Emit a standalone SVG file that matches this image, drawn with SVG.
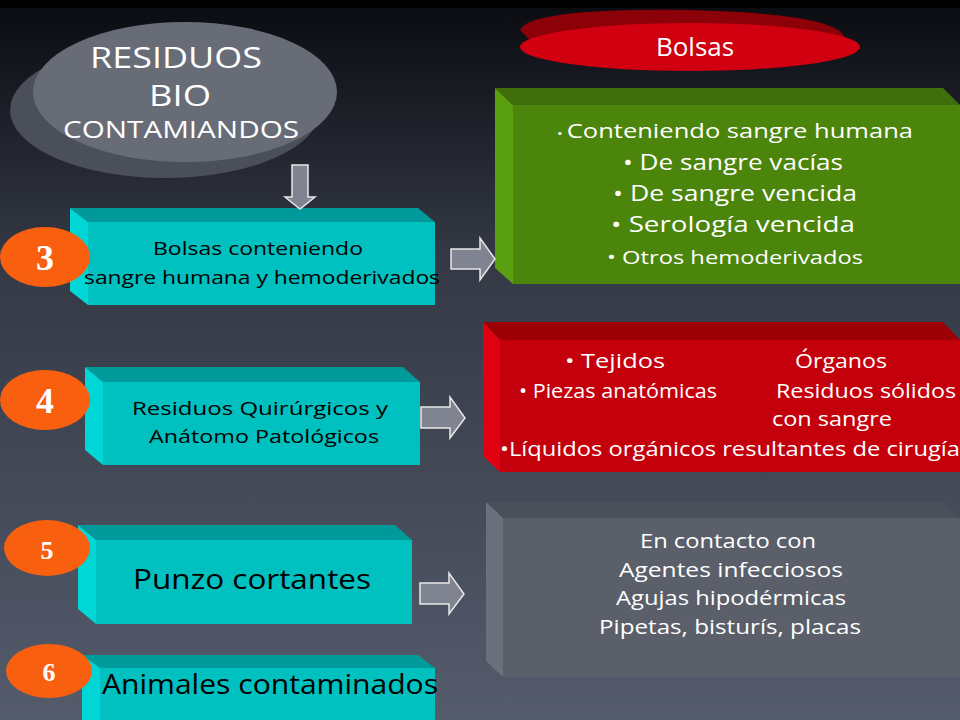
<svg xmlns="http://www.w3.org/2000/svg" width="960" height="720" viewBox="0 0 960 720">
<defs>
<linearGradient id="bg" x1="0" y1="0" x2="0" y2="1">
<stop offset="0" stop-color="#0a0b10"/><stop offset="0.35" stop-color="#333844"/><stop offset="1" stop-color="#545b6b"/>
</linearGradient>
<style>
text{font-family:"Open Sans","Liberation Sans",sans-serif;text-anchor:middle}
.w{fill:#fff}.k{fill:#000}
.arr{fill:#7f8490;stroke:#e8e8e8;stroke-width:1.5}
.num{font-family:"Liberation Serif",serif;font-weight:bold;fill:#fff}
</style>
</defs>
<rect width="960" height="720" fill="url(#bg)"/>
<rect width="960" height="8" fill="#000"/>

<g id="title">
<ellipse cx="165" cy="110" rx="155" ry="68" fill="#4a4f5a"/>
<ellipse cx="185" cy="92" rx="152" ry="70" fill="#676c77"/>
<text class="w" x="176" y="68" font-size="29" textLength="172" lengthAdjust="spacingAndGlyphs">RESIDUOS</text>
<text class="w" x="180" y="106" font-size="29" textLength="62" lengthAdjust="spacingAndGlyphs">BIO</text>
<text class="w" x="181" y="138" font-size="24" textLength="236" lengthAdjust="spacingAndGlyphs">CONTAMIANDOS</text>
</g>

<g id="bolsas-title">
<path d="M520,30 Q530,8 690,10 Q845,14 845,40 L830,50 L540,50 Z" fill="#8c0008"/>
<ellipse cx="690" cy="47" rx="170" ry="24" fill="#d00010"/>
<text class="w" x="695" y="56" font-size="26">Bolsas</text>
</g>

<g id="n3">
<polygon points="70,208 418,208 435,222 88,222" fill="#009a9a"/>
<polygon points="70,208 88,222 88,305 70,291" fill="#00d6d6"/>
<rect x="88" y="222" width="347" height="83" fill="#00c0c0"/>
<text class="k" x="258" y="255" font-size="19" textLength="210" lengthAdjust="spacingAndGlyphs">Bolsas conteniendo</text>
<text class="k" x="262" y="284" font-size="19" textLength="356" lengthAdjust="spacingAndGlyphs">sangre humana y hemoderivados</text>
<ellipse cx="45" cy="257" rx="45" ry="30" fill="#f86010"/>
<text class="num" x="45" y="270" font-size="36">3</text>
</g>

<g id="n4">
<polygon points="85,367 403,367 420,382 103,382" fill="#009a9a"/>
<polygon points="85,367 103,382 103,465 85,450" fill="#00d6d6"/>
<rect x="103" y="382" width="317" height="83" fill="#00c0c0"/>
<text class="k" x="260" y="415" font-size="19" textLength="256" lengthAdjust="spacingAndGlyphs">Residuos Quirúrgicos y</text>
<text class="k" x="264" y="443" font-size="19" textLength="230" lengthAdjust="spacingAndGlyphs">Anátomo Patológicos</text>
<ellipse cx="45" cy="400" rx="45" ry="30" fill="#f86010"/>
<text class="num" x="45" y="413" font-size="36">4</text>
</g>

<g id="n5">
<polygon points="78,525 395,525 412,540 96,540" fill="#009a9a"/>
<polygon points="78,525 96,540 96,624 78,609" fill="#00d6d6"/>
<rect x="96" y="540" width="316" height="84" fill="#00c0c0"/>
<text class="k" x="252" y="589" font-size="27" textLength="238" lengthAdjust="spacingAndGlyphs">Punzo cortantes</text>
<ellipse cx="47" cy="548" rx="43" ry="28" fill="#f86010"/>
<text class="num" x="47" y="559" font-size="26">5</text>
</g>

<g id="n6">
<polygon points="82,655 418,655 435,668 100,668" fill="#009a9a"/>
<polygon points="82,655 100,668 100,720 82,720" fill="#00d6d6"/>
<rect x="100" y="668" width="335" height="52" fill="#00c0c0"/>
<text class="k" x="270" y="694" font-size="27" textLength="336" lengthAdjust="spacingAndGlyphs">Animales contaminados</text>
<ellipse cx="49" cy="671" rx="43" ry="27" fill="#f86010"/>
<text class="num" x="49" y="681" font-size="26">6</text>
</g>

<g id="green">
<polygon points="495,88 943,88 960,105 513,105" fill="#3f6e0a"/>
<polygon points="495,88 513,105 513,284 495,268" fill="#5aa010"/>
<rect x="513" y="105" width="447" height="179" fill="#4b850c"/>
<text class="w" x="735" y="138" font-size="20" textLength="356" lengthAdjust="spacingAndGlyphs"><tspan font-size="12">• </tspan>Conteniendo sangre humana</text>
<text class="w" x="733" y="170" font-size="22" textLength="220" lengthAdjust="spacingAndGlyphs">• De sangre vacías</text>
<text class="w" x="735" y="201" font-size="22" textLength="244" lengthAdjust="spacingAndGlyphs">• De sangre vencida</text>
<text class="w" x="733" y="232" font-size="22" textLength="244" lengthAdjust="spacingAndGlyphs">• Serología vencida</text>
<text class="w" x="735" y="264" font-size="19" textLength="256" lengthAdjust="spacingAndGlyphs">• Otros hemoderivados</text>
</g>

<g id="red">
<polygon points="483,322 943,322 960,340 500,340" fill="#9c0006"/>
<polygon points="483,322 500,340 500,472 483,456" fill="#e00010"/>
<rect x="500" y="340" width="460" height="132" fill="#c4000c"/>
<text class="w" x="615" y="368" font-size="20" textLength="100" lengthAdjust="spacingAndGlyphs">• Tejidos</text>
<text class="w" x="841" y="368" font-size="20" textLength="92" lengthAdjust="spacingAndGlyphs">Órganos</text>
<text class="w" x="618" y="398" font-size="20" textLength="198" lengthAdjust="spacingAndGlyphs">• Piezas anatómicas</text>
<text class="w" x="866" y="398" font-size="20" textLength="180" lengthAdjust="spacingAndGlyphs">Residuos sólidos</text>
<text class="w" x="832" y="426" font-size="20" textLength="120" lengthAdjust="spacingAndGlyphs">con sangre</text>
<text class="w" x="730" y="456" font-size="20" textLength="460" lengthAdjust="spacingAndGlyphs">•Líquidos orgánicos resultantes de cirugía</text>
</g>

<g id="gray">
<polygon points="486,502 943,502 960,518 503,518" fill="#4a4f5a"/>
<polygon points="486,502 503,518 503,677 486,661" fill="#6a707c"/>
<rect x="503" y="518" width="457" height="159" fill="#5a5f6a"/>
<text class="w" x="728" y="548" font-size="20" textLength="176" lengthAdjust="spacingAndGlyphs">En contacto con</text>
<text class="w" x="731" y="577" font-size="20" textLength="224" lengthAdjust="spacingAndGlyphs">Agentes infecciosos</text>
<text class="w" x="731" y="605" font-size="20" textLength="230" lengthAdjust="spacingAndGlyphs">Agujas hipodérmicas</text>
<text class="w" x="730" y="634" font-size="20" textLength="262" lengthAdjust="spacingAndGlyphs">Pipetas, bisturís, placas</text>
</g>

<g id="connectors">
<polygon class="arr" points="292,165 308,165 308,197 315,197 300,209 285,197 292,197"/>
<polygon class="arr" points="451,249 480,249 480,238 495,259 480,280 480,269 451,269"/>
<polygon class="arr" points="421,407 450,407 450,397 465,418 450,438 450,428 421,428"/>
<polygon class="arr" points="420,583 449,583 449,573 464,594 449,614 449,604 420,604"/>
</g>
</svg>
